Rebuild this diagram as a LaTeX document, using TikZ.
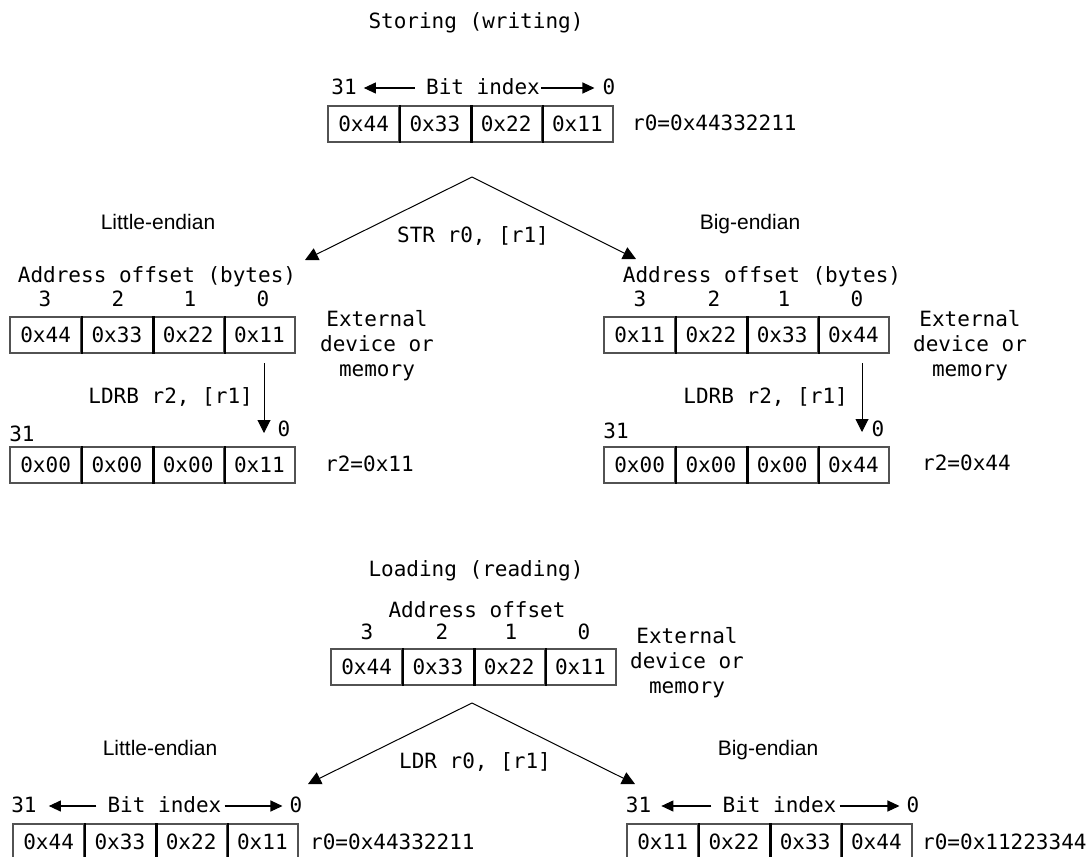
\documentclass[tikz,border=0pt]{standalone}
\usepackage{fontspec}
\usetikzlibrary{arrows.meta}
\newfontfamily\monofam{DejaVu Sans Mono}
\newfontfamily\sansfam{Liberation Sans}
\tikzset{
  mono/.style={font={\monofam\fontsize{21}{25}\selectfont}, inner sep=0pt, text height=1.28em, text depth=0em},
  sanslbl/.style={font={\sansfam\fontsize{21}{25}\selectfont}, inner sep=0pt, text height=1.28em, text depth=0em},
  multi/.style={font={\monofam\fontsize{21}{25}\selectfont}, inner sep=0pt, align=center, yshift=-3pt},
  cell/.style={draw=black!68, line width=2pt, minimum width=71.25pt, minimum height=36pt, inner sep=0pt,
               font={\monofam\fontsize{21}{25}\selectfont}},
  divider/.style={draw=black, line width=2.4pt},
  conn/.style={-{Triangle[length=13pt,width=13pt]}, line width=1pt, line join=miter},
  bitarrow/.style={-{Triangle[length=12pt,width=11pt]}, line width=1.1pt},
}
\newcommand\regrow[7]{%
  \node[cell] (#1-1) at ({#2+35.625},{#3+18}) {#4};
  \node[cell] (#1-2) at ({#2+106.875},{#3+18}) {#5};
  \node[cell] (#1-3) at ({#2+178.125},{#3+18}) {#6};
  \node[cell] (#1-4) at ({#2+249.375},{#3+18}) {#7};
  \draw[divider] (#1-1.north east) -- (#1-1.south east);
  \draw[divider] (#1-2.north east) -- (#1-2.south east);
  \draw[divider] (#1-3.north east) -- (#1-3.south east);
}
\begin{document}
\begin{tikzpicture}[x=1pt,y=-1pt]
\useasboundingbox (0,0) rectangle (1090,857);
\fill[white] (0,0) rectangle (1090,857);

% ================= Storing =================
\node[mono] (t1) at (476,22) {Storing (writing)};

% top register bit index
\node[mono] (tb31) at (344,88) {31};
\node[mono] (tbi) at (483,88) {Bit index};
\node[mono] (tb0) at (609,88) {0};
\draw[bitarrow] ([xshift=-11pt]tbi.west) -- ([xshift=7pt]tb31.east);
\draw[bitarrow] ([xshift=1pt]tbi.east) -- ([xshift=-8pt]tb0.west);
\regrow{r0}{328}{106}{0x44}{0x33}{0x22}{0x11}
\node[mono, anchor=west] (r0v) at (632,124) {r0=0x44332211};

\coordinate (apex1) at (472,177);
\coordinate (tipLE1) at (305,260);
\coordinate (tipBE1) at (636,259);
\draw[conn] (apex1) -- (tipLE1);
\draw[conn] (apex1) -- (tipBE1);
\node[sanslbl] (le1) at (158,223) {Little-endian};
\node[sanslbl] (be1) at (750,223) {Big-endian};
\node[mono] (str) at (473,236) {STR r0, [r1]};

% Little-endian (storing)
\node[mono] (leao) at (157,276) {Address offset (bytes)};
\node[mono] (len3) at (45,300) {3};
\node[mono] (len2) at (118,300) {2};
\node[mono] (len1) at (190,300) {1};
\node[mono] (len0) at (263,300) {0};
\regrow{lem}{10}{317}{0x44}{0x33}{0x22}{0x11}
\node[multi] (leext) at (377,343) {External\\device or\\memory};
\coordinate (leA) at (264,363);
\coordinate (leB) at (264,433);
\draw[conn] (leA) -- (leB);
\node[mono, anchor=east] (leldrb) at (253,397) {LDRB r2, [r1]};
\node[mono] (le31) at (22,435) {31};
\node[mono] (le0) at (284,430) {0};
\regrow{ler}{10}{447}{0x00}{0x00}{0x00}{0x11}
\node[mono, anchor=west] (ler2) at (325,465) {r2=0x11};

% Big-endian (storing)
\node[mono] (beao) at (762,276) {Address offset (bytes)};
\node[mono] (ben3) at (640,300) {3};
\node[mono] (ben2) at (714,300) {2};
\node[mono] (ben1) at (784,300) {1};
\node[mono] (ben0) at (857,300) {0};
\regrow{bem}{604}{317}{0x11}{0x22}{0x33}{0x44}
\node[multi] (beext) at (970,343) {External\\device or\\memory};
\coordinate (beA) at (862,363);
\coordinate (beB) at (862,432);
\draw[conn] (beA) -- (beB);
\node[mono, anchor=east] (beldrb) at (848,397) {LDRB r2, [r1]};
\node[mono] (be31) at (616,432) {31};
\node[mono] (be0) at (878,430) {0};
\regrow{ber}{604}{447}{0x00}{0x00}{0x00}{0x44}
\node[mono, anchor=west] (ber2) at (922,464) {r2=0x44};

% ================= Loading =================
\node[mono] (t2) at (476,570) {Loading (reading)};
\node[mono] (ldao) at (477,611) {Address offset};
\node[mono] (ldn3) at (367,633) {3};
\node[mono] (ldn2) at (442,633) {2};
\node[mono] (ldn1) at (511,633) {1};
\node[mono] (ldn0) at (584,633) {0};
\regrow{ldm}{331}{649}{0x44}{0x33}{0x22}{0x11}
\node[multi] (ldext) at (687,660) {External\\device or\\memory};

\coordinate (apex2) at (472,703);
\coordinate (tipLE2) at (308,784);
\coordinate (tipBE2) at (635,784);
\draw[conn] (apex2) -- (tipLE2);
\draw[conn] (apex2) -- (tipBE2);
\node[sanslbl] (le2) at (160,749) {Little-endian};
\node[sanslbl] (be2) at (768,749) {Big-endian};
\node[mono] (ldr) at (475,762) {LDR r0, [r1]};

% bottom little-endian
\node[mono] (lb31) at (24,806) {31};
\node[mono] (lbi) at (164.5,806) {Bit index};
\node[mono] (lb0) at (296,806) {0};
\draw[bitarrow] ([xshift=-11pt]lbi.west) -- ([xshift=12pt]lb31.east);
\draw[bitarrow] ([xshift=3pt]lbi.east) -- ([xshift=-7pt]lb0.west);
\regrow{lbr}{13}{824}{0x44}{0x33}{0x22}{0x11}
\node[mono, anchor=west] (lbr0) at (310,843) {r0=0x44332211};

% bottom big-endian
\node[mono] (bb31) at (638.5,806) {31};
\node[mono] (bbi) at (779.5,806) {Bit index};
\node[mono] (bb0) at (913,806) {0};
\draw[bitarrow] ([xshift=-11pt]bbi.west) -- ([xshift=10pt]bb31.east);
\draw[bitarrow] ([xshift=3pt]bbi.east) -- ([xshift=-7pt]bb0.west);
\regrow{bbr}{627}{824}{0x11}{0x22}{0x33}{0x44}
\node[mono, anchor=west] (bbr0) at (922,843) {r0=0x11223344};
\end{tikzpicture}
\end{document}
